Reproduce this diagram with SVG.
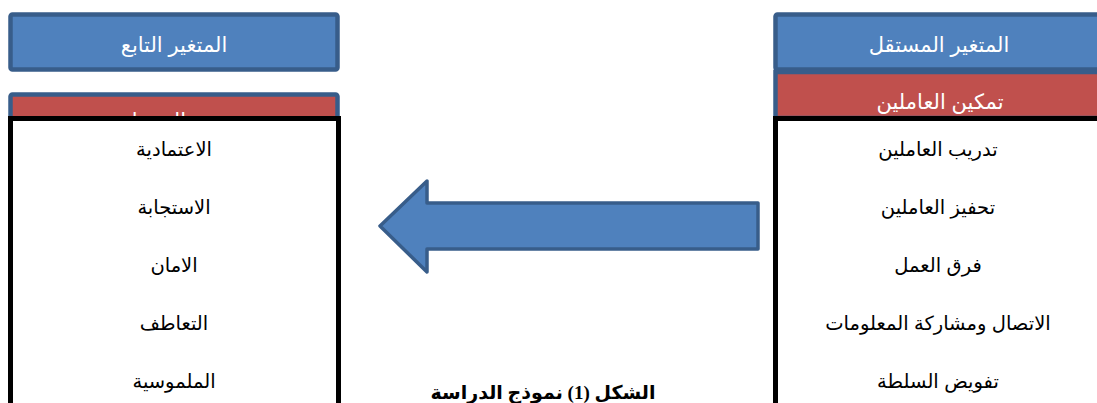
<svg xmlns="http://www.w3.org/2000/svg" width="1097" height="403" viewBox="0 0 1097 403">
<style>
.hdr{fill:#4F81BD;stroke:#385D8A;stroke-width:4.5}
.red{fill:#C0504D;stroke:#385D8A;stroke-width:4.5}
.box{fill:#FFFFFF;stroke:#000000;stroke-width:5}
.wt{fill:#FFFFFF;font-family:"Liberation Sans","DejaVu Sans",sans-serif;font-size:21px;text-anchor:middle}
.it{fill:#000000;font-family:"Liberation Sans","DejaVu Sans",sans-serif;font-size:19.5px;text-anchor:middle}
.cap{fill:#000000;font-family:"Liberation Serif","DejaVu Sans",serif;font-size:19px;font-weight:bold;text-anchor:middle}
</style>
<rect width="1097" height="403" fill="#FFFFFF"/>
<g id="dependent">
  <g id="dep-header">
    <rect class="hdr" x="10.5" y="14.5" width="327" height="55" rx="2"/>
    <text class="wt" x="174" y="52" direction="rtl">المتغير التابع</text>
  </g>
  <g id="dep-title">
    <rect class="red" x="10.5" y="94.5" width="327" height="50" rx="2"/>
    <text class="wt" x="174" y="128" direction="rtl">جودة الخدمات</text>
  </g>
  <g id="dep-list">
    <rect class="box" x="10.5" y="118.5" width="328" height="300"/>
    <text class="it" x="174" y="156" direction="rtl">الاعتمادية</text>
    <text class="it" x="174" y="214" direction="rtl">الاستجابة</text>
    <text class="it" x="174" y="272" direction="rtl">الامان</text>
    <text class="it" x="174" y="330" direction="rtl">التعاطف</text>
    <text class="it" x="174" y="388" direction="rtl">الملموسية</text>
  </g>
</g>
<g id="independent">
  <g id="ind-header">
    <rect class="hdr" x="775.5" y="14.5" width="330" height="55" rx="2"/>
    <text class="wt" x="939" y="52" direction="rtl">المتغير المستقل</text>
  </g>
  <g id="ind-title">
    <rect class="red" x="775.5" y="72" width="330" height="46"/>
    <text class="wt" x="940" y="109" direction="rtl">تمكين العاملين</text>
  </g>
  <g id="ind-list">
    <rect class="box" x="775.5" y="118.5" width="330" height="300"/>
    <text class="it" x="938" y="156" direction="rtl">تدريب العاملين</text>
    <text class="it" x="938" y="214" direction="rtl">تحفيز العاملين</text>
    <text class="it" x="938" y="272" direction="rtl">فرق العمل</text>
    <text class="it" x="938" y="330" direction="rtl">الاتصال ومشاركة المعلومات</text>
    <text class="it" x="938" y="388" direction="rtl">تفويض السلطة</text>
  </g>
</g>
<g id="connectors">
  <polygon points="380,226 427,181 427,203 758,203 758,249 427,249 427,272" fill="#4F81BD" stroke="#385D8A" stroke-width="3.5" stroke-linejoin="round"/>
</g>
<g id="caption">
  <text class="cap" x="543" y="399" direction="rtl">الشكل (1) نموذج الدراسة</text>
</g>
</svg>
